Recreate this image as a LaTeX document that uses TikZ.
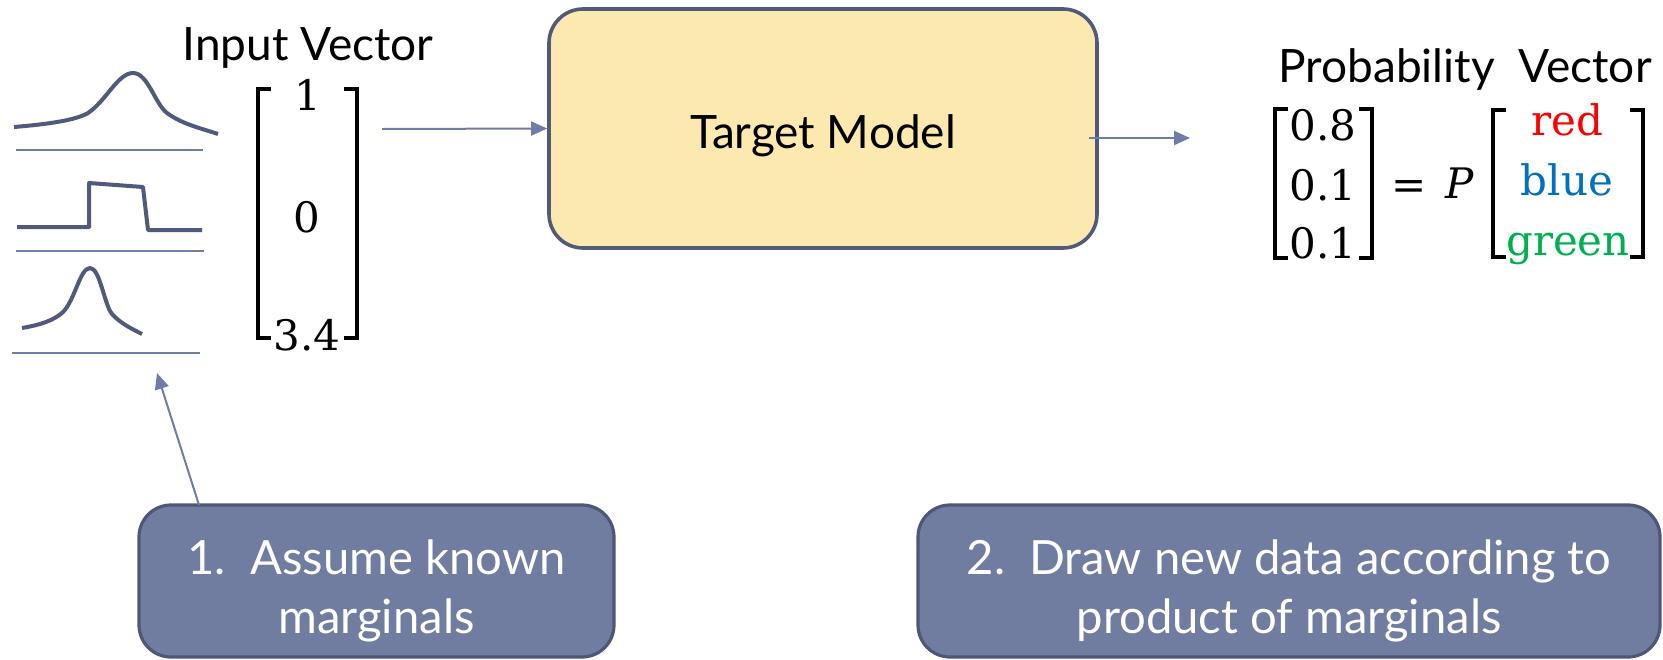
\documentclass[tikz,border=0pt]{standalone}
\usepackage{fontspec}
\newfontfamily\labelfont{Lato}
\newfontfamily\valuefont{DejaVu Serif}
\usetikzlibrary{arrows.meta}
\definecolor{edgeslate}{HTML}{525A7A}
\definecolor{modelfill}{HTML}{FCE9AF}
\definecolor{notefill}{HTML}{717CA1}
\definecolor{noteedge}{HTML}{4F5776}
\definecolor{linkblue}{HTML}{6F7BA8}
\definecolor{curveslate}{HTML}{515A7C}
\definecolor{catred}{HTML}{FF0000}
\definecolor{catblue}{HTML}{0070C0}
\definecolor{catgreen}{HTML}{00B050}
\begin{document}
\begin{tikzpicture}[x=0.5pt,y=-0.5pt,
  conn/.style={draw=linkblue, line width=1pt, -{Triangle[length=8pt,width=7pt]}},
  axisline/.style={draw=linkblue, line width=0.8pt},
  density/.style={draw=curveslate, line width=2pt, line join=round},
  brkt/.style={draw=black, line width=1.8pt},
  heading/.style={font=\labelfont\fontsize{23}{28}\selectfont, anchor=base, inner sep=0pt},
  num/.style={font=\valuefont\fontsize{21}{26}\selectfont, anchor=base, inner sep=0pt},
  modelbox/.style={draw=edgeslate, line width=1.8pt, fill=modelfill, rounded corners=17pt,
    font=\labelfont\fontsize{23}{28}\selectfont, text height=22pt, text depth=2.5pt},
  notebox/.style={draw=noteedge, line width=1.6pt, fill=notefill, rounded corners=16pt},
  notetext/.style={text=white, align=center, inner sep=0pt,
    font=\labelfont\fontsize{23.6}{29.5}\selectfont}]
\useasboundingbox (0,0) rectangle (1663,659);

% marginal densities with their axes
\draw[density] (14,127) .. controls (50,124) and (76,120) .. (88,113)
  .. controls (106,101) and (118,73) .. (133,73)
  .. controls (148,73) and (155,104) .. (167,113)
  .. controls (182,124) and (200,128) .. (218,134);
\draw[axisline] (16,150) -- (203,150);
\draw[density] (17,227) -- (89,227) -- (89,183) -- (143,187) -- (148,230) -- (202,230);
\draw[axisline] (16,251) -- (204,251);
\draw[density] (22,328) .. controls (40,325) and (55,320) .. (63,312)
  .. controls (75,300) and (80,268) .. (90,268)
  .. controls (100,268) and (104,304) .. (112,314)
  .. controls (120,323) and (132,329) .. (142,334);
\draw[axisline] (12,353) -- (200,353);

% input vector
\node[heading] (invec) at (308,60) {Input Vector};
\draw[brkt] (271,89) -- (258,89) -- (258,338) -- (271,338);
\draw[brkt] (344,89) -- (357,89) -- (357,338) -- (344,338);
\node[num] (in1) at (308,110) {1};
\node[num] (in2) at (307,232) {0};
\node[num] (in3) at (307,350) {3.4};

% target model
\node[modelbox, minimum width=274pt, minimum height=119.5pt] (model) at (823,128.5) {Target Model};
\coordinate (inEnd) at (382,129);
\draw[conn] (inEnd) -- (model.west);
\coordinate (outStart) at (1089,138);
\coordinate (outEnd) at (1190,138);
\draw[conn] (outStart) -- (outEnd);

% probability vector
\node[heading] (probvec) at (1465,82) {Probability\ \ Vector};
\draw[brkt] (1288,109) -- (1275,109) -- (1275,258) -- (1288,258);
\draw[brkt] (1359,109) -- (1372,109) -- (1372,258) -- (1359,258);
\node[num] (p1) at (1323,140) {0.8};
\node[num] (p2) at (1323,200) {0.1};
\node[num] (p3) at (1323,258) {0.1};
\node[num] (eq) at (1409,199) {=};
\node[num] (pp) at (1460,198) {\itshape P};
\draw[brkt] (1506,110) -- (1493,110) -- (1493,257) -- (1506,257);
\draw[brkt] (1630,110) -- (1643,110) -- (1643,257) -- (1630,257);
\node[num, text=catred] (c1) at (1567,135) {red};
\node[num, text=catblue] (c2) at (1567,195) {blue};
\node[num, text=catgreen] (c3) at (1568,255) {green};

% steps
\node[notebox, minimum width=237.5pt, minimum height=76pt] (note1) at (376.5,581) {};
\node[notetext] (note1text) at ([yshift=-5pt]note1.center) {1.\ \ Assume known\\marginals};
\node[notebox, minimum width=371pt, minimum height=76pt] (note2) at (1289,581) {};
\node[notetext] (note2text) at ([yshift=-5pt]note2.center) {2.\ \ Draw new data according to\\product of marginals};
\coordinate (noteTail) at (199,505);
\coordinate (noteTip) at (157,373);
\draw[conn] (noteTail) -- (noteTip);
\end{tikzpicture}
\end{document}
